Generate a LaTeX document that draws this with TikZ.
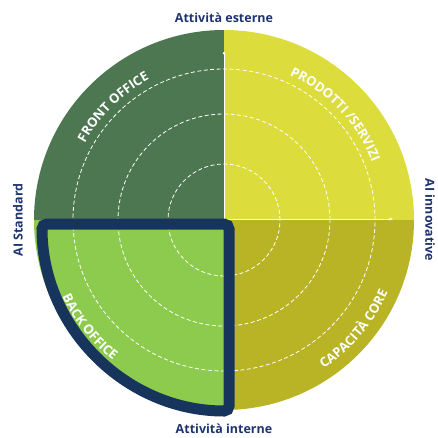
\documentclass[tikz,border=0pt]{standalone}
\usepackage{fontspec}
\setmainfont{Open Sans}
\usetikzlibrary{decorations.text,arrows.meta}
\definecolor{frontgreen}{HTML}{4C7751}
\definecolor{prodyellow}{HTML}{DCDC3C}
\definecolor{coreolive}{HTML}{B8B425}
\definecolor{backgreen}{HTML}{8DCB4E}
\definecolor{navyline}{HTML}{17355C}
\definecolor{navytext}{HTML}{1E3470}
\def\arclabel(#1:#2:#3)#4{\path[postaction={decorate,decoration={text along path,text align=center,text color=white,text={|\bfseries\fontsize{13}{14}\selectfont|#4}}}] (#1:#3) arc (#1:#2:#3);}
\tikzset{
	ring/.style={white, line width=0.8pt, dash pattern=on 4pt off 2.5pt},
	axisline/.style={white, line width=0.9pt},
	sidelabel/.style={text=navytext, font=\bfseries\fontsize{12.5}{13}\selectfont, inner sep=0pt}
}

\begin{document}
\begin{tikzpicture}[x=1pt, y=1pt]
			%%%%% START %%%%%
			\useasboundingbox (-224, -217) rectangle (214, 220);
			
			\fill[frontgreen] (0, 0) -- (180:190) arc (180:90:190) -- cycle;
			\fill[prodyellow] (0, 0) -- (90:190) arc (90:0:190) -- cycle;
			\fill[coreolive] (0, 0) -- (0:190) arc (0:-90:190) -- cycle;
			\fill[backgreen] (0, 0) -- (270:190) arc (270:180:190) -- cycle;
			
			\draw[ring] (0, 0) circle (56);
			\draw[ring] (0, 0) circle (106);
			\draw[ring] (0, 0) circle (151);
			
			\draw[axisline, -{Stealth[length=4pt, width=3pt]}] (-171, 1) -- (169, 1);
			\draw[axisline, -{Circle[length=2.5pt]}] (0, -164) -- (0, 168);
			
			\draw[navyline, line width=11pt, rounded corners=5pt] (5, -4) -- (-182, -4) arc (180:270:187) -- cycle;
			
			\arclabel(172:97:159){FRONT OFFICE}
			\arclabel(82:5:159){PRODOTTI /SERVIZI}
			\arclabel(182:255:179){BACK OFFICE}
			\arclabel(282:358:179){CAPACITÀ CORE}
			
			\node[sidelabel] (esterne) at (0, 202) {Attività esterne};
			\node[sidelabel] (interne) at (0, -209) {Attività interne};
			\node[sidelabel, rotate=90] (standard) at (-206, 0) {AI Standard};
			\node[sidelabel, rotate=-90] (innovative) at (206, 0) {AI innovative};
			%%%%% END %%%%%
\end{tikzpicture}
\end{document}
